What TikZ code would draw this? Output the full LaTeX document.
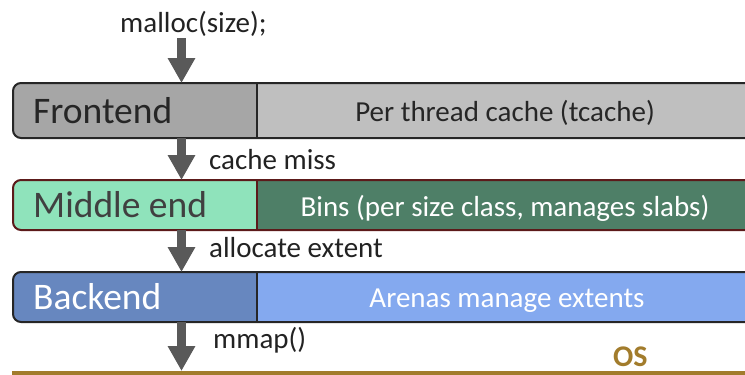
\documentclass[tikz,border=0pt]{standalone}
\usepackage{fontspec}
\setmainfont{Carlito}
\usetikzlibrary{arrows.meta}
\definecolor{feL}{HTML}{A6A6A6}
\definecolor{feR}{HTML}{BFBFBF}
\definecolor{feB}{HTML}{262626}
\definecolor{meL}{HTML}{8FE3BB}
\definecolor{meR}{HTML}{4E7F67}
\definecolor{meB}{HTML}{5C1A1A}
\definecolor{beL}{HTML}{6787BF}
\definecolor{beR}{HTML}{84A9EF}
\definecolor{beB}{HTML}{262626}
\definecolor{arrc}{HTML}{595959}
\definecolor{osc}{HTML}{A27C2C}
\definecolor{txt}{HTML}{222222}
\newcommand\mylayer[5]{%
  \fill[#4, rounded corners=8pt] (760,#1) -- (13,#1) -- (13,#2) -- (760,#2) -- cycle;
  \begin{scope}
    \clip (0,0) rectangle (257,375);
    \fill[#3, rounded corners=8pt] (760,#1) -- (13,#1) -- (13,#2) -- (760,#2) -- cycle;
  \end{scope}
  \draw[#5, line width=2pt, rounded corners=8pt] (760,#1) -- (13,#1) -- (13,#2) -- (760,#2);
  \draw[#5, line width=2pt] (257,#1) -- (257,#2);
}
\tikzset{
  big/.style={inner sep=0pt, font=\fontsize{37.5}{44}\selectfont},
  small/.style={inner sep=0pt, font=\fontsize{29}{34}\selectfont},
  bigarrow/.style={arrc, line width=9pt, -{Triangle[width=26pt,length=25pt]}},
}
\begin{document}
\begin{tikzpicture}[x=1pt,y=-1pt]
\useasboundingbox (0,0) rectangle (745,375);
\clip (0,0) rectangle (745,375);
\mylayer{83}{138}{feL}{feR}{feB}
\mylayer{180}{230}{meL}{meR}{meB}
\mylayer{272}{322}{beL}{beR}{beB}
\fill[osc] (12,371) rectangle (760,376);

\node[big, text=feB, anchor=base west] (fetxt) at (33,123) {Frontend};
\node[small, text=feB, anchor=base] (fesub) at (505,121) {Per thread cache (tcache)};
\node[big, text={black!75}, anchor=base west] (metxt) at (33,217) {Middle end};
\node[small, text=white, anchor=base] (mesub) at (505,216) {Bins (per size class, manages slabs)};
\node[big, text=white, anchor=base west] (betxt) at (33,309) {Backend};
\node[small, text=white, anchor=base] (besub) at (507,307) {Arenas manage extents};

\node[small, text=txt, anchor=base west] (malloc) at (120,32) {malloc(size);};
\node[small, text=txt, anchor=base west] (miss) at (209,169) {cache miss};
\node[small, text=txt, anchor=base west] (alloc) at (209,257) {allocate extent};
\node[small, text=txt, anchor=base west] (mmap) at (213,348) {mmap()};
\node[inner sep=0pt, text=osc, anchor=base west, font=\fontsize{30}{34}\selectfont\bfseries] (os) at (613,366) {OS};

\coordinate (a0) at (181.5,38);
\coordinate (feT) at (181.5,83);
\coordinate (feBt) at (181.5,138);
\coordinate (meT) at (181.5,180);
\coordinate (meBt) at (181.5,230);
\coordinate (beT) at (181.5,272);
\coordinate (beBt) at (181.5,322);
\coordinate (osT) at (181.5,371);
\draw[bigarrow] (a0) -- (feT);
\draw[bigarrow] (feBt) -- (meT);
\draw[bigarrow] (meBt) -- (beT);
\draw[bigarrow] (beBt) -- (osT);
\end{tikzpicture}
\end{document}
